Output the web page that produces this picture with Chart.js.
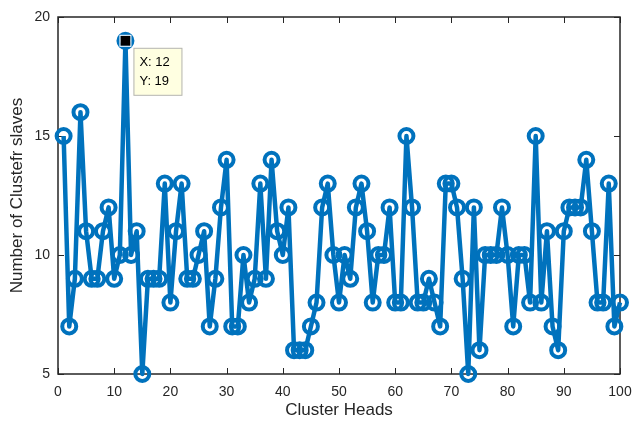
<!DOCTYPE html>
<html>
<head>
<meta charset="utf-8">
<script src="https://cdn.jsdelivr.net/npm/chart.js@4"></script>
<style>
  html, body { margin: 0; padding: 0; background: #fff; }
  canvas { display: block; }
</style>
</head>
<body>
<canvas id="chart" width="633" height="421"></canvas>
<script>
// cluster head index and number of slaves per cluster
const clusterHeads = [
  1, 2, 3, 4, 5, 6, 7, 8, 9, 10, 11, 12, 13, 14, 15, 16, 17, 18, 19, 20,
  21, 22, 23, 24, 25, 26, 27, 28, 29, 30, 31, 32, 33, 34, 35, 36, 37, 38, 39, 40,
  41, 42, 43, 44, 45, 46, 47, 48, 49, 50, 51, 52, 53, 54, 55, 56, 57, 58, 59, 60,
  61, 62, 63, 64, 65, 66, 67, 68, 69, 70, 71, 72, 73, 74, 75, 76, 77, 78, 79, 80,
  81, 82, 83, 84, 85, 86, 87, 88, 89, 90, 91, 92, 93, 94, 95, 96, 97, 98, 99, 100
];
const slaves = [
  15, 7, 9, 16, 11, 9, 9, 11, 12, 9, 10, 19, 10, 11, 5, 9, 9, 9, 13, 8,
  11, 13, 9, 9, 10, 11, 7, 9, 12, 14, 7, 7, 10, 8, 9, 13, 9, 14, 11, 10,
  12, 6, 6, 6, 7, 8, 12, 13, 10, 8, 10, 9, 12, 13, 11, 8, 10, 10, 12, 8,
  8, 15, 12, 8, 8, 9, 8, 7, 13, 13, 12, 9, 5, 12, 6, 10, 10, 10, 12, 10,
  7, 10, 10, 8, 15, 8, 11, 7, 6, 11, 12, 12, 12, 14, 11, 8, 8, 13, 7, 8
];
const xTicks = [0, 10, 20, 30, 40, 50, 60, 70, 80, 90, 100];
const yTicks = [5, 10, 15, 20];
const tipIndex = 11; // data tip on the 12th cluster head

const axisColor = '#262626';
const lineColor = '#0072BD';
const fontFamily = '"Liberation Sans", Arial, Helvetica, sans-serif';

// box + inward tick marks like a MATLAB axes
const boxPlugin = {
  id: 'box',
  beforeDatasetsDraw(chart) {
    const { ctx, chartArea: a, scales } = chart;
    ctx.save();
    ctx.strokeStyle = axisColor;
    ctx.lineWidth = 1.5;
    ctx.strokeRect(a.left, a.top, a.right - a.left, a.bottom - a.top);
    ctx.lineWidth = 1;
    ctx.beginPath();
    xTicks.forEach(v => {
      const px = Math.round(scales.x.getPixelForValue(v)) + 0.5;
      ctx.moveTo(px, a.bottom); ctx.lineTo(px, a.bottom - 6);
      ctx.moveTo(px, a.top); ctx.lineTo(px, a.top + 6);
    });
    yTicks.forEach(v => {
      const py = Math.round(scales.y.getPixelForValue(v)) + 0.5;
      ctx.moveTo(a.left, py); ctx.lineTo(a.left + 6, py);
      ctx.moveTo(a.right, py); ctx.lineTo(a.right - 6, py);
    });
    ctx.stroke();
    ctx.restore();
  }
};

// MATLAB style data tip
const dataTipPlugin = {
  id: 'dataTip',
  afterDatasetsDraw(chart) {
    const { ctx } = chart;
    const pt = chart.getDatasetMeta(0).data[tipIndex];
    const px = pt.x, py = pt.y;
    ctx.save();
    ctx.fillStyle = '#000';
    ctx.strokeStyle = '#fff';
    ctx.lineWidth = 1;
    ctx.fillRect(px - 5, py - 5, 10, 10);
    ctx.strokeRect(px - 5.5, py - 5.5, 11, 11);

    const bx = px + 8, by = py + 7, bw = 49, bh = 48;
    ctx.fillStyle = '#ffffe1';
    ctx.fillRect(bx, by, bw, bh);
    ctx.strokeStyle = '#b4b4b4';
    ctx.strokeRect(bx + 0.5, by + 0.5, bw - 1, bh - 1);
    ctx.fillStyle = '#000';
    ctx.font = '13px ' + fontFamily;
    ctx.textBaseline = 'middle';
    ctx.fillText('X: ' + clusterHeads[tipIndex], bx + 6, by + 15);
    ctx.fillText('Y: ' + slaves[tipIndex], bx + 6, by + 34);
    ctx.restore();
  }
};

new Chart(document.getElementById('chart'), {
  type: 'line',
  data: {
    datasets: [{
      data: clusterHeads.map((x, i) => ({ x: x, y: slaves[i] })),
      borderColor: lineColor,
      borderWidth: 4.5,
      borderJoinStyle: 'round',
      pointRadius: 7,
      pointBorderWidth: 4,
      pointBorderColor: lineColor,
      pointBackgroundColor: 'rgba(0,0,0,0)',
      tension: 0,
      clip: false
    }]
  },
  options: {
    responsive: false,
    animation: false,
    events: [],
    layout: { padding: { top: 17, right: 13, left: 0, bottom: 0 } },
    plugins: {
      legend: { display: false },
      tooltip: { enabled: false }
    },
    scales: {
      x: {
        type: 'linear',
        min: 0,
        max: 100,
        afterFit(s) { s.height = 47; s.paddingLeft = 0; s.paddingRight = 0; },
        afterBuildTicks(s) { s.ticks = xTicks.map(v => ({ value: v })); },
        grid: { display: false, drawTicks: false },
        border: { display: false },
        ticks: {
          autoSkip: false,
          maxRotation: 0,
          padding: 10,
          color: axisColor,
          font: { family: fontFamily, size: 14 }
        },
        title: {
          display: true,
          text: 'Cluster Heads',
          color: axisColor,
          padding: { top: 0, bottom: 0 },
          font: { family: fontFamily, size: 17 }
        }
      },
      y: {
        min: 5,
        max: 20,
        afterFit(s) { s.width = 58; s.paddingTop = 0; s.paddingBottom = 0; },
        afterBuildTicks(s) { s.ticks = yTicks.map(v => ({ value: v })); },
        grid: { display: false, drawTicks: false },
        border: { display: false },
        ticks: {
          padding: 8,
          color: axisColor,
          font: { family: fontFamily, size: 14 }
        },
        title: {
          display: true,
          text: 'Number of Clustefr slaves',
          color: axisColor,
          padding: { top: 7, bottom: 0 },
          font: { family: fontFamily, size: 17 }
        }
      }
    }
  },
  plugins: [boxPlugin, dataTipPlugin]
});
</script>
</body>
</html>
